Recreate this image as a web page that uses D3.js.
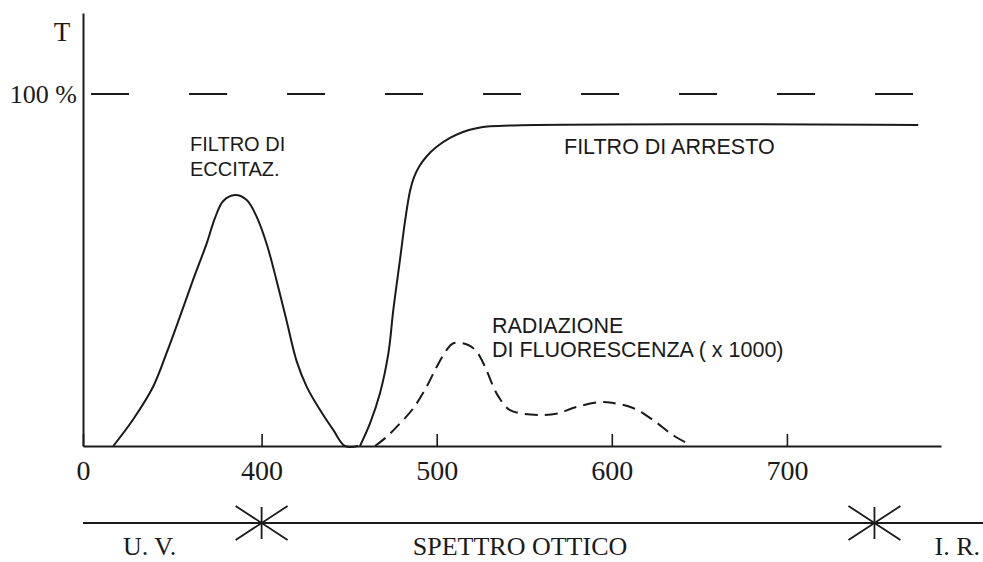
<!DOCTYPE html>
<html>
<head>
  <meta charset="utf-8" />
  <script src="https://d3js.org/d3.v7.min.js"></script>
  <style>
    body { margin: 0; background: #fff; }
    .serif { font-family: "Liberation Serif", "DejaVu Serif", serif; fill: #1a1a1a; }
    .sans { font-family: "Liberation Sans", "DejaVu Sans", sans-serif; fill: #1a1a1a; }
  </style>
</head>
<body>
<div id="chart"></div>
<script>
  // filtro di eccitazione: lunghezza d'onda (nm) e trasmissione (%)
  const eccitazNm = [315.3, 326.7, 338.1, 345.8, 353.4, 361, 368.6, 373.4, 378.1, 384.8, 391.5, 397.2, 402.9, 408.6, 414.3, 420, 425.8, 433.4, 441, 447.6, 455.2];
  const eccitazT  = [0, 7.6, 16.9, 26.5, 36.8, 47.4, 57.5, 64.8, 69.6, 71.3, 69.9, 65.1, 57.4, 46.9, 35.5, 24.1, 16.8, 10.2, 4.5, 0, 0];

  // filtro di arresto
  const arrestoNm = [456.2, 461.9, 467.6, 472.4, 475.2, 479, 481.9, 484.7, 487, 490, 494.3, 500, 507.6, 515, 522, 530.4, 775];
  const arrestoT  = [0, 6.4, 15, 26.3, 38.6, 52.8, 63.8, 72.3, 76.3, 79.4, 82.3, 85, 87.5, 89.2, 90.2, 90.8, 91.2];

  // radiazione di fluorescenza (x 1000)
  const fluoNm = [464.8, 471.4, 479, 486.6, 494.3, 500, 505.7, 509.5, 518, 522.8, 527.6, 532.3, 535.2, 541.9, 559, 570.4, 577.8, 593.3, 600.7, 612.1, 623.5, 634.9, 644.7];
  const fluoT  = [0, 2.6, 6.4, 10.7, 16.9, 22.5, 27.3, 29.2, 28.7, 26.8, 22.5, 16.9, 14.1, 10.2, 8.8, 9.4, 10.8, 12.5, 12.2, 10.8, 7.4, 3.1, 0.3];

  // asse x interrotto: l'origine "0" sta poco prima di 300 nm
  const xOrigin = 298;
  const xTickValues = [298, 400, 500, 600, 700];
  const xTickLabels = ["0", "400", "500", "600", "700"];
  const fullScale = 100;          // linea tratteggiata 100 %
  const bandLimits = [400, 750];  // UV | visibile | IR
  const bandLabels = ["U. V.", "SPETTRO OTTICO", "I. R."];

  const width = 983, height = 562;

  const svg = d3.select("#chart").append("svg")
    .attr("width", width)
    .attr("height", height);

  const x = d3.scaleLinear().domain([xOrigin, 788]).range([83, 941]);
  const y = d3.scaleLinear().domain([0, 123]).range([446, 13]);

  const ink = "#1a1a1a";

  // assi
  svg.append("g")
    .attr("transform", `translate(0,${y(0)})`)
    .call(d3.axisBottom(x)
      .tickValues(xTickValues)
      .tickFormat((d, i) => xTickLabels[i])
      .tickSizeInner(-12)
      .tickSizeOuter(0)
      .tickPadding(14))
    .call(g => g.select(".domain").attr("stroke", ink).attr("stroke-width", 2))
    .call(g => g.selectAll(".tick line").attr("stroke", ink).attr("stroke-width", 1.6))
    .call(g => g.selectAll(".tick text")
      .attr("class", "serif")
      .attr("fill", ink)
      .style("font-size", "28px"));

  svg.append("g")
    .attr("transform", `translate(${x(xOrigin)},0)`)
    .call(d3.axisLeft(y).tickValues([]).tickSizeOuter(0))
    .call(g => g.select(".domain").attr("stroke", ink).attr("stroke-width", 2));

  svg.append("text").attr("class", "serif")
    .attr("x", 62).attr("y", 41)
    .attr("text-anchor", "middle")
    .style("font-size", "27px")
    .text("T");

  svg.append("text").attr("class", "serif")
    .attr("x", 77).attr("y", y(fullScale) + 9)
    .attr("text-anchor", "end")
    .style("font-size", "26px")
    .text("100 %");

  // linea 100 %
  svg.append("line")
    .attr("x1", x(302.6)).attr("x2", x(776))
    .attr("y1", y(fullScale)).attr("y2", y(fullScale))
    .attr("stroke", ink)
    .attr("stroke-width", 2)
    .attr("stroke-dasharray", "38,60");

  const line = d3.line()
    .x(d => x(d[0]))
    .y(d => y(d[1]))
    .curve(d3.curveCatmullRom.alpha(0.5));

  const eccitaz = eccitazNm.map((d, i) => [d, eccitazT[i]]);
  const arresto = arrestoNm.map((d, i) => [d, arrestoT[i]]);
  const fluo = fluoNm.map((d, i) => [d, fluoT[i]]);

  svg.append("path").datum(eccitaz)
    .attr("d", line)
    .attr("fill", "none").attr("stroke", ink).attr("stroke-width", 2);

  svg.append("path").datum(arresto)
    .attr("d", line)
    .attr("fill", "none").attr("stroke", ink).attr("stroke-width", 2);

  svg.append("path").datum(fluo)
    .attr("d", line)
    .attr("fill", "none").attr("stroke", ink).attr("stroke-width", 2)
    .attr("stroke-dasharray", "13,7");

  // etichette delle curve
  const label = (txt, px, py, size) => svg.append("text").attr("class", "sans")
    .attr("x", px).attr("y", py)
    .style("font-size", size + "px")
    .text(txt);

  label("FILTRO DI", 190, 151, 20);
  label("ECCITAZ.", 190, 176, 20);
  label("FILTRO DI ARRESTO", 564, 154, 21.5);
  label("RADIAZIONE", 492, 333, 21.5);
  label("DI FLUORESCENZA ( x 1000)", 492, 357, 21.5);

  // barra dello spettro ottico
  const bandY = 523;
  svg.append("line")
    .attr("x1", x(xOrigin)).attr("x2", width)
    .attr("y1", bandY).attr("y2", bandY)
    .attr("stroke", ink).attr("stroke-width", 2);

  const star = svg.selectAll("g.star").data(bandLimits).enter()
    .append("g").attr("class", "star")
    .attr("transform", d => `translate(${x(d)},${bandY})`);
  star.append("line").attr("x1", 0).attr("x2", 0).attr("y1", -16).attr("y2", 16);
  star.append("line").attr("x1", -26).attr("x2", 26).attr("y1", -17).attr("y2", 17);
  star.append("line").attr("x1", -26).attr("x2", 26).attr("y1", 17).attr("y2", -17);
  star.selectAll("line").attr("stroke", ink).attr("stroke-width", 1.8);

  const bandPos = [[123, "start"], [(x(bandLimits[0]) + x(bandLimits[1])) / 2 - 48, "middle"], [980, "end"]];
  svg.selectAll("text.band").data(bandLabels).enter()
    .append("text").attr("class", "serif band")
    .attr("x", (d, i) => bandPos[i][0])
    .attr("y", 555)
    .attr("text-anchor", (d, i) => bandPos[i][1])
    .style("font-size", "26px")
    .text(d => d);
</script>
</body>
</html>
